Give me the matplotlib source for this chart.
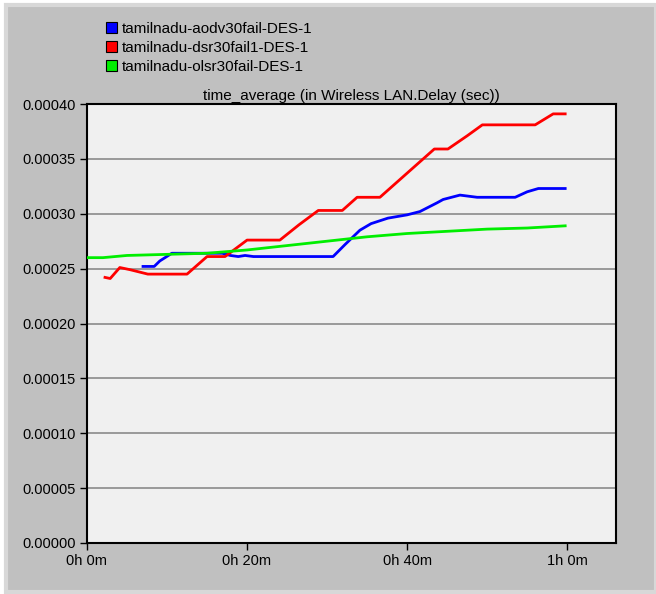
import matplotlib
matplotlib.use("Agg")
import matplotlib.pyplot as plt
from matplotlib.patches import Rectangle, Patch

plt.rcParams['font.family'] = ['Liberation Sans', 'DejaVu Sans']

# minutes, delay (sec)
aodv_t = [7.0, 8.4, 9.1, 9.75, 10.6, 16.9, 17.9, 18.9, 19.75, 20.8, 22.0, 30.75,
          32.25, 34.1, 35.5, 37.6, 40.0, 41.6, 43.75, 44.5, 46.6, 48.75, 53.5, 55.0, 56.4, 59.75]
aodv_v = [0.000252, 0.000252, 0.000257, 0.000260, 0.000264, 0.000264, 0.000262, 0.000261,
          0.000262, 0.000261, 0.000261, 0.000261, 0.000272, 0.000285, 0.000291, 0.000296,
          0.000299, 0.000302, 0.000310, 0.000313, 0.000317, 0.000315, 0.000315, 0.000320,
          0.000323, 0.000323]

dsr_t = [2.25, 2.9, 4.1, 5.4, 7.6, 12.5, 15.0, 17.25, 20.0, 24.1, 26.5, 28.9, 31.9,
         33.75, 36.6, 40.0, 43.4, 45.1, 47.5, 49.4, 56.0, 58.25, 59.75]
dsr_v = [0.000242, 0.000241, 0.000251, 0.000249, 0.000245, 0.000245, 0.000261, 0.000261,
         0.000276, 0.000276, 0.000290, 0.000303, 0.000303, 0.000315, 0.000315, 0.000337,
         0.000359, 0.000359, 0.000371, 0.000381, 0.000381, 0.000391, 0.000391]

olsr_t = [0, 2, 5, 10, 15, 20, 25, 30, 35, 40, 45, 50, 55, 59.75]
olsr_v = [0.000260, 0.000260, 0.000262, 0.000263, 0.000264, 0.000267, 0.000271, 0.000275,
          0.000279, 0.000282, 0.000284, 0.000286, 0.000287, 0.000289]

names = ['tamilnadu-aodv30fail-DES-1', 'tamilnadu-dsr30fail1-DES-1', 'tamilnadu-olsr30fail-DES-1']
colors = ['#0000ff', '#ff0000', '#00ee00']

xticks = [0, 20, 40, 60]
xlabels = ['0h 0m', '0h 20m', '0h 40m', '1h 0m']
yticks = [i * 0.00005 for i in range(9)]

fig = plt.figure(figsize=(6.56, 5.94), dpi=100)
fig.patch.set_facecolor('white')
# gray panel behind the chart
fig.patches.append(Rectangle((6 / 656, 2 / 594), 650 / 656, 587 / 594, transform=fig.transFigure,
                             facecolor='#c0c0c0', edgecolor='#d8d8d8', linewidth=3, zorder=-5))

ax = fig.add_axes([87 / 656, 51 / 594, 529 / 656, 439 / 594])
ax.set_facecolor('#f0f0f0')

for t, v, c in zip([aodv_t, dsr_t, olsr_t], [aodv_v, dsr_v, olsr_v], colors):
    ax.plot(t, v, color=c, linewidth=2.0, zorder=3)

ax.set_xlim(0, 66.1)
ax.set_ylim(0, 0.0004)
ax.set_xticks(xticks)
ax.set_xticklabels(xlabels)
ax.set_yticks(yticks)
ax.set_yticklabels(['%.5f' % y for y in yticks])
ax.tick_params(labelsize=10.5, direction='out', length=5, width=1, colors='black', pad=3)
ax.grid(axis='y', color='#8a8a8a', linewidth=1.2)
for s in ax.spines.values():
    s.set_linewidth(1.5)
ax.set_title('time_average (in Wireless LAN.Delay (sec))', fontsize=11, pad=3)

handles = [Patch(facecolor=c, edgecolor='black', linewidth=0.8) for c in colors]
fig.legend(handles, names, loc='upper left', bbox_to_anchor=(92 / 656, 1 - 8 / 594),
           frameon=False, fontsize=11, handlelength=0.75, handleheight=0.75,
           handletextpad=0.3, labelspacing=0.32)

fig.savefig('out.png', dpi=100)
